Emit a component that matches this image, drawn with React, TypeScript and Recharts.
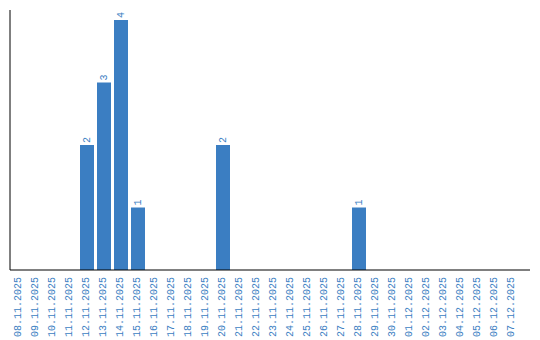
import React from 'react';
import { BarChart, Bar, XAxis, YAxis, LabelList } from 'recharts';

const dates = [
  '08.11.2025', '09.11.2025', '10.11.2025', '11.11.2025', '12.11.2025',
  '13.11.2025', '14.11.2025', '15.11.2025', '16.11.2025', '17.11.2025',
  '18.11.2025', '19.11.2025', '20.11.2025', '21.11.2025', '22.11.2025',
  '23.11.2025', '24.11.2025', '25.11.2025', '26.11.2025', '27.11.2025',
  '28.11.2025', '29.11.2025', '30.11.2025', '01.12.2025', '02.12.2025',
  '03.12.2025', '04.12.2025', '05.12.2025', '06.12.2025', '07.12.2025',
];
const counts = [0, 0, 0, 0, 2, 3, 4, 1, 0, 0, 0, 0, 2, 0, 0, 0, 0, 0, 0, 0, 1, 0, 0, 0, 0, 0, 0, 0, 0, 0];

const BLUE = '#3b7ec2';
const FONT = '"Liberation Mono", "DejaVu Sans Mono", monospace';

const data = dates.map((d, i) => ({ date: d, count: counts[i] }));

const DateTick = (props: any) => {
  const { x, payload } = props;
  const y = 277;
  return (
    <text
      x={x}
      y={y}
      transform={`rotate(-90, ${x}, ${y})`}
      textAnchor="end"
      dominantBaseline="central"
      fill={BLUE}
      fontSize={10}
      fontFamily={FONT}
    >
      {payload.value}
    </text>
  );
};

const ValueLabel = (props: any) => {
  const { x, y, width, value } = props;
  if (!value) return null;
  const cx = x + width / 2;
  const cy = y - 2;
  return (
    <text
      x={cx}
      y={cy}
      transform={`rotate(-90, ${cx}, ${cy})`}
      textAnchor="start"
      dominantBaseline="central"
      fill={BLUE}
      fontSize={10}
      fontFamily={FONT}
    >
      {value}
    </text>
  );
};

export default function App() {
  return (
    <div style={{ position: 'absolute', left: 0, top: 0, background: '#fff' }}>
      <BarChart
        width={540}
        height={340}
        data={data}
        margin={{ top: 10, right: 10, bottom: 0, left: 9 }}
      >
        <XAxis
          dataKey="date"
          interval={0}
          height={70}
          tickLine={false}
          axisLine={{ stroke: '#000' }}
          tick={<DateTick />}
          padding={{ left: 0, right: 10 }}
        />
        <YAxis
          width={1}
          tick={false}
          tickLine={false}
          axisLine={{ stroke: '#000' }}
          domain={[0, 4]}
          padding={{ top: 10, bottom: 0 }}
        />
        <Bar dataKey="count" fill={BLUE} barSize={14} isAnimationActive={false}>
          <LabelList dataKey="count" content={<ValueLabel />} />
        </Bar>
      </BarChart>
    </div>
  );
}
